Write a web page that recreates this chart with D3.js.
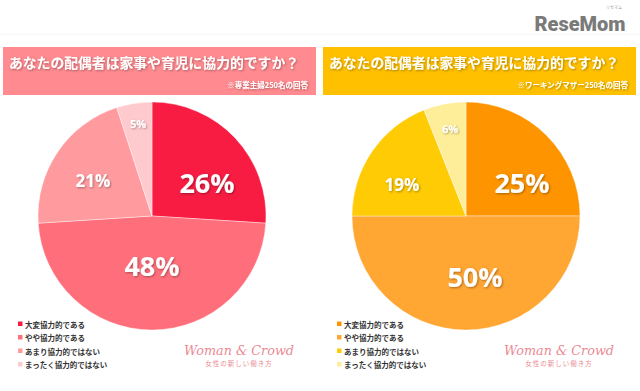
<!DOCTYPE html>
<html><head><meta charset="utf-8">
<script src="https://cdn.jsdelivr.net/npm/d3@7/dist/d3.min.js"></script>
<style>
html,body{margin:0;padding:0;background:#fff;}
svg{display:block;font-family:"Noto Sans CJK JP","Noto Sans",sans-serif;}
</style></head>
<body>
<svg id="c" width="640" height="391"></svg>
<script>
const title = "あなたの配偶者は家事や育児に協力的ですか？";
const categories = ["大変協力的である","やや協力的である","あまり協力的ではない","まったく協力的ではない"];
const housewifeValues = [26, 48, 21, 5];
const workingValues = [25, 50, 19, 6];
const housewifeNote = "※専業主婦250名の回答";
const workingNote = "※ワーキングマザー250名の回答";
const housewifeColors = ["#f81c43","#ff6f7b","#ff9b9f","#ffcacd"];
const workingColors = ["#fe9400","#ffa633","#ffcb05","#ffee99"];

const svg = d3.select("#c");
const defs = svg.append("defs");
const f = defs.append("filter").attr("id","sh").attr("x","-20%").attr("y","-20%").attr("width","140%").attr("height","140%");
f.append("feDropShadow").attr("dx",1).attr("dy",1).attr("stdDeviation",1).attr("flood-color","#000").attr("flood-opacity",0.35);

// top brand
svg.append("line").attr("x1",0).attr("x2",640).attr("y1",34).attr("y2",34).attr("stroke","#f4f4f4");
svg.append("text").attr("x",580).attr("y",31).attr("text-anchor","middle")
  .attr("font-family","Roboto, 'DejaVu Sans', sans-serif").attr("font-weight",900)
  .attr("font-size",20).attr("fill","#7a7a7a").text("ReseMom");
svg.append("text").attr("x",614).attr("y",9).attr("text-anchor","middle")
  .attr("font-size",4).attr("fill","#999").text("リセマム");

const panels = [
  {x0:3, w:313, header:"#ff8b90", note:housewifeNote, values:housewifeValues, colors:housewifeColors, cx:152, legendX:18,
   labelPos:[[207,182],[152,265],[93,180],[138,123]]},
  {x0:323, w:313, header:"#ffc000", note:workingNote, values:workingValues, colors:workingColors, cx:466, legendX:337,
   labelPos:[[522,182],[475,276],[402,184],[450,128]]}
];
const labelSizes = [27,27,17,11];
const r = 114, cy = 216;

panels.forEach(p => {
  const g = svg.append("g");
  g.append("rect").attr("x",p.x0).attr("y",47).attr("width",p.w).attr("height",48).attr("fill",p.header);
  g.append("text").attr("x",p.x0+6).attr("y",68).attr("font-size",13.5).attr("font-weight",700)
    .attr("textLength",290).attr("lengthAdjust","spacingAndGlyphs")
    .attr("fill","#fff").attr("filter","url(#sh)").text(title);
  g.append("text").attr("x",p.x0+p.w-8).attr("y",88).attr("text-anchor","end").attr("font-size",7.5)
    .attr("font-weight",700).attr("fill","#fff").attr("filter","url(#sh)").text(p.note);

  const pie = d3.pie().sort(null).value(d=>d);
  const arc = d3.arc().innerRadius(0).outerRadius(r);
  const pg = g.append("g").attr("transform",`translate(${p.cx},${cy})`);
  pg.selectAll("path").data(pie(p.values)).join("path")
    .attr("d",arc).attr("fill",(d,i)=>p.colors[i]).attr("stroke","#fff").attr("stroke-width",0.4);

  p.values.forEach((v,i)=>{
    g.append("text").attr("x",p.labelPos[i][0]).attr("y",p.labelPos[i][1]).attr("text-anchor","middle")
      .attr("dominant-baseline","central").attr("font-family","'Open Sans','Noto Sans',sans-serif")
      .attr("font-weight",700).attr("font-size",labelSizes[i]).attr("fill","#fff")
      .attr("filter","url(#sh)").text(v+"%");
  });

  const lg = g.append("g");
  categories.forEach((c,i)=>{
    const y = 324 + i*13.5;
    lg.append("rect").attr("x",p.legendX).attr("y",y-2.5).attr("width",4.5).attr("height",4.5).attr("fill",p.colors[i]);
    lg.append("text").attr("x",p.legendX+7).attr("y",y).attr("dominant-baseline","central")
      .attr("font-size",7.5).attr("font-weight",700).attr("fill","#333").text(c);
  });

  const lx = p.x0 + 236;
  g.append("text").attr("x",lx).attr("y",355).attr("text-anchor","middle")
    .attr("font-family","'DejaVu Serif',serif").attr("font-style","italic").attr("font-size",13.5)
    .attr("textLength",110).attr("lengthAdjust","spacingAndGlyphs")
    .attr("fill","#ea8a93").text("Woman & Crowd");
  g.append("text").attr("x",lx).attr("y",366).attr("text-anchor","middle")
    .attr("font-size",6.5).attr("letter-spacing",1).attr("fill","#ea8a93").text("女性の新しい働き方");
});
</script>
</body></html>
